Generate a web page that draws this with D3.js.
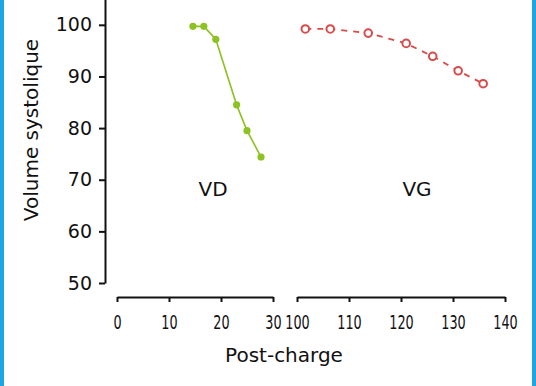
<!DOCTYPE html>
<html>
<head>
<meta charset="utf-8">
<title>Volume systolique / Post-charge</title>
<script src="https://cdn.jsdelivr.net/npm/d3@7"></script>
<style>
  body { margin: 0; background: #fff; }
  .axis path, .axis line { stroke: #111; stroke-width: 2; }
  .axis text { fill: #111; }
  .ylab text { font-family: "DejaVu Sans", sans-serif; font-size: 19px; }
  .xlab text { font-family: "DejaVu Sans", sans-serif; font-size: 20px; }
  .title { font-family: "DejaVu Sans", sans-serif; font-size: 20px; fill: #111; }
</style>
</head>
<body>
<script>
// données
var vdX = [14.6, 16.7, 19.0, 23.0, 25.0, 27.7];
var vdY = [99.7, 99.7, 97.2, 84.5, 79.5, 74.4];
var vgX = [101.6, 106.4, 113.7, 121.0, 126.1, 131.0, 135.8];
var vgY = [99.2, 99.2, 98.4, 96.4, 93.9, 91.1, 88.6];
var yTicks = [50, 60, 70, 80, 90, 100];
var xTicksLeft = [0, 10, 20, 30];
var xTicksRight = [100, 110, 120, 130, 140];

var width = 536, height = 386;
var green = "#8cc221", red = "#d94a4a", blue = "#1ba6e2";

var svg = d3.select("body").append("svg")
  .attr("width", width).attr("height", height);

// cadre bleu (bords gauche et droit)
svg.append("rect").attr("x", 0).attr("y", 0).attr("width", 4).attr("height", height).attr("fill", blue);
svg.append("rect").attr("x", 532).attr("y", 0).attr("width", 4).attr("height", height).attr("fill", blue);

var yScale = d3.scaleLinear().domain([50, 105]).range([283, -1]);
var xLeft = d3.scaleLinear().domain([0, 30]).range([117, 273]);
var xRight = d3.scaleLinear().domain([100, 140]).range([297, 505]);

svg.append("g").attr("class", "axis ylab")
  .attr("transform", "translate(105,0)")
  .call(d3.axisLeft(yScale).tickValues(yTicks).tickSize(6).tickSizeOuter(0).tickPadding(7));

// chiffres condensés sous l'axe x
svg.append("g").attr("class", "axis xlab")
  .attr("transform", "translate(0,297)")
  .call(d3.axisBottom(xLeft).tickValues(xTicksLeft).tickSize(5).tickSizeOuter(0).tickPadding(13))
  .selectAll("text").attr("transform", "scale(0.64,1)");

svg.append("g").attr("class", "axis xlab")
  .attr("transform", "translate(0,297)")
  .call(d3.axisBottom(xRight).tickValues(xTicksRight).tickSize(5).tickSizeOuter(0).tickPadding(13))
  .selectAll("text").attr("transform", "scale(0.64,1)");

// VD : trait plein, points pleins
var vd = vdX.map(function(d, i) { return [d, vdY[i]]; });
svg.append("path").datum(vd)
  .attr("fill", "none").attr("stroke", green).attr("stroke-width", 1.6)
  .attr("d", d3.line().x(function(d) { return xLeft(d[0]); }).y(function(d) { return yScale(d[1]); }));
svg.selectAll(".vd").data(vd).enter().append("circle")
  .attr("class", "vd")
  .attr("cx", function(d) { return xLeft(d[0]); })
  .attr("cy", function(d) { return yScale(d[1]); })
  .attr("r", 3.6).attr("fill", green);

// VG : pointillés, cercles vides
var vg = vgX.map(function(d, i) { return [d, vgY[i]]; });
svg.append("path").datum(vg)
  .attr("fill", "none").attr("stroke", red).attr("stroke-width", 1.8)
  .style("stroke-dasharray", "6 6")
  .attr("d", d3.line().x(function(d) { return xRight(d[0]); }).y(function(d) { return yScale(d[1]); }));
svg.selectAll(".vg").data(vg).enter().append("circle")
  .attr("class", "vg")
  .attr("cx", function(d) { return xRight(d[0]); })
  .attr("cy", function(d) { return yScale(d[1]); })
  .attr("r", 3.8).attr("fill", "#fff").attr("stroke", red).attr("stroke-width", 2);

svg.append("text").attr("class", "title").attr("x", 213).attr("y", 196)
  .attr("text-anchor", "middle").text("VD");
svg.append("text").attr("class", "title").attr("x", 417).attr("y", 196)
  .attr("text-anchor", "middle").text("VG");

svg.append("text").attr("class", "title").attr("x", 284).attr("y", 362)
  .attr("text-anchor", "middle").text("Post-charge");
svg.append("text").attr("class", "title")
  .attr("transform", "translate(38,130) rotate(-90)")
  .attr("text-anchor", "middle").text("Volume systolique");
</script>
</body>
</html>
